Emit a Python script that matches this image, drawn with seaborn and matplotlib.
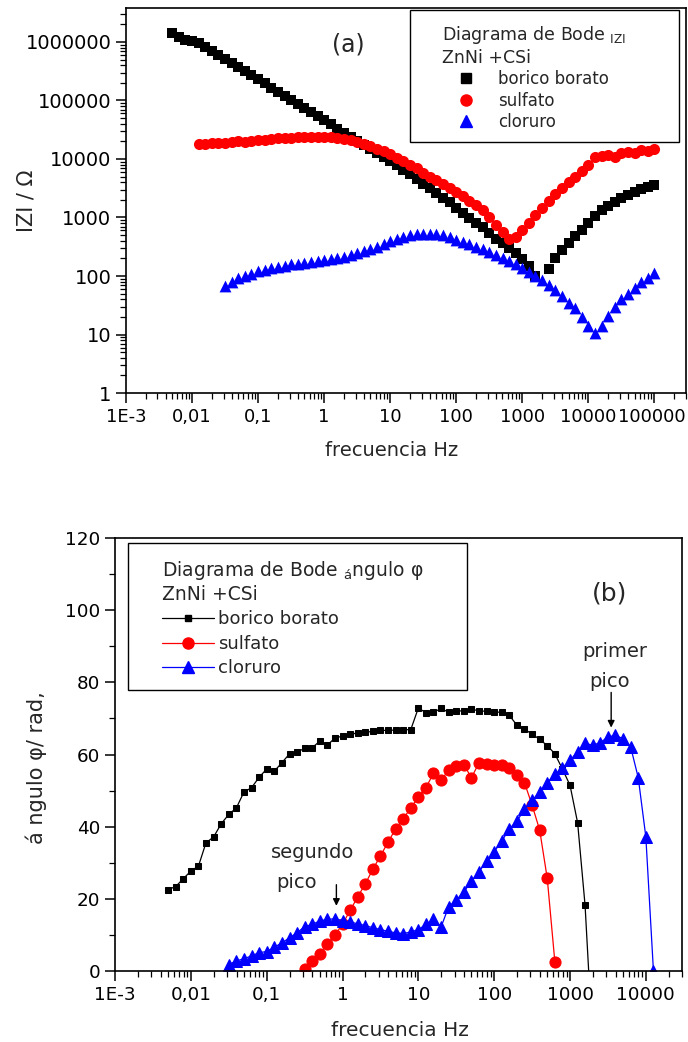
import numpy as np
import pandas as pd
import matplotlib
matplotlib.use("Agg")
import matplotlib.pyplot as plt
import seaborn as sns
from matplotlib.lines import Line2D
from matplotlib.patches import Rectangle
from matplotlib.transforms import ScaledTranslation
from matplotlib.ticker import LogLocator, NullFormatter, MultipleLocator

# ---------------- data ----------------
freq = [0.00501, 0.00631, 0.00794, 0.01, 0.0126, 0.0158, 0.02, 0.0251, 0.0316, 0.0398,
        0.0501, 0.0631, 0.0794, 0.1, 0.126, 0.158, 0.2, 0.251, 0.316, 0.398,
        0.501, 0.631, 0.794, 1.0, 1.26, 1.58, 2.0, 2.51, 3.16, 3.98,
        5.01, 6.31, 7.94, 10.0, 12.6, 15.8, 20.0, 25.1, 31.6, 39.8,
        50.1, 63.1, 79.4, 100, 126, 158, 200, 251, 316, 398,
        501, 631, 794, 1000, 1260, 1580, 2000, 2510, 3160, 3980,
        5010, 6310, 7940, 10000, 12600, 15800, 20000, 25100, 31600, 39800,
        50100, 63100, 79400, 100000]

# |Z| (ohm) -- panel (a)
z_borico = [1450000, 1200000, 1100000, 1030000, 977000, 832000, 708000, 603000, 513000, 437000,
            372000, 316000, 269000, 229000, 195000, 166000, 141000, 120000, 102000, 87100,
            74100, 63100, 53700, 45700, 38900, 33100, 28200, 24000, 20400, 17400,
            14800, 12600, 10700, 9120, 7760, 6610, 5620, 4570, 3800, 3160,
            2630, 2190, 1820, 1480, 1200, 977, 813, 676, 537, 437,
            363, 302, 251, 195, 148, 100, np.nan, 132, 200, 275,
            363, 479, 617, 794, 1050, 1320, 1580, 1860, 2140, 2450,
            2750, 3090, 3310, 3550]
z_sulfato = [18200, 18200, 18600, 18600, 19100, 19500, 20000, 19500, 20400, 20900,
             21400, 21900, 22400, 22900, 22900, 23400, 23400, 24000, 24000, 24000,
             23400, 22900, 21900, 20900, 19500, 18200, 16600, 15100, 13500, 12000,
             10500, 9120, 7940, 6920, 5750, 5010, 4370, 3800, 3240, 2750,
             2340, 1950, 1620, 1320, 1000, 759, 562, 427, 457, 603,
             794, 1100, 1480, 1950, 2510, 3160, 3980, 5010, 6310, 7940,
             10700, 11200, 11500, 11000, 12600, 13200, 12900, 14100, 13500, 15100]
z_cloruro = [68, 79, 91, 100, 110, 120, 129, 138, 145, 151,
             158, 162, 166, 174, 178, 186, 195, 204, 214, 229,
             245, 263, 288, 316, 355, 398, 437, 468, 495, 515,
             530, 530, 515, 495, 468, 417, 380, 347, 316, 288,
             257, 229, 204, 182, 158, 138, 117, 100, 85, 71,
             58, 46, 35, 28, 20, 14, 10.5, 13.8, 21, 30,
             40, 50, 63, 78, 93, 112]

# phase angle (degrees) -- panel (b)
ph_borico = [22.6, 23.4, 25.6, 27.7, 29.1, 35.5, 37.2, 40.8, 43.4, 45.2,
             49.6, 50.8, 53.7, 56.0, 55.4, 57.7, 60.2, 60.7, 61.7, 61.9,
             63.7, 62.6, 64.6, 65.1, 65.6, 66.0, 66.2, 66.4, 66.7, 66.7,
             66.8, 66.9, 66.9, 72.9, 71.6, 71.7, 72.8, 71.7, 72.1, 72.1,
             72.6, 72.1, 72.0, 71.7, 71.8, 70.9, 68.1, 67.0, 65.7, 64.2,
             62.5, 60.2, 56.0, 51.5, 41.1, 18.2, -21.0]
ph_sulfato = [-3.0, 0.6, 2.8, 4.8, 7.6, 9.9, 13.0, 16.8, 20.5, 24.2,
              28.2, 31.9, 35.7, 39.4, 42.2, 45.2, 48.2, 50.8, 54.8, 52.9,
              55.7, 56.8, 57.2, 53.6, 57.7, 57.4, 57.0, 57.0, 56.3, 54.2,
              52.2, 46.0, 39.1, 25.7, 2.6]
ph_cloruro = [1.8, 2.8, 3.4, 4.2, 5.1, 5.4, 6.6, 7.8, 9.2, 10.6,
              12.3, 12.9, 13.9, 14.3, 14.5, 14.0, 13.6, 13.1, 12.6, 12.0,
              11.5, 11.0, 10.6, 10.4, 10.8, 11.5, 12.9, 14.3, 12.3, 17.8,
              19.7, 21.9, 24.9, 27.5, 30.5, 33.1, 36.0, 39.4, 41.6, 44.8,
              47.3, 49.6, 52.2, 54.5, 56.3, 58.4, 60.8, 63.1, 62.6, 63.3,
              64.9, 65.3, 64.4, 62.1, 53.6, 37.2, 0.0]

series_labels = ["borico borato", "sulfato", "cloruro"]
colors = ["black", "#ff0000", "#0000ff"]

xt_a = [1e-3, 1e-2, 1e-1, 1, 10, 100, 1000, 10000, 100000]
xl_a = ["1E-3", "0,01", "0,1", "1", "10", "100", "1000", "10000", "100000"]
yt_a = [1, 10, 100, 1000, 10000, 100000, 1000000]
yl_a = ["1", "10", "100", "1000", "10000", "100000", "1000000"]
xt_b = [1e-3, 1e-2, 1e-1, 1, 10, 100, 1000, 10000]
xl_b = ["1E-3", "0,01", "0,1", "1", "10", "100", "1000", "10000"]
yt_b = [0, 20, 40, 60, 80, 100, 120]

# ---------------- style ----------------
sns.set_theme(style="ticks")
plt.rcParams['font.family'] = ['DejaVu Sans']
plt.rcParams['mathtext.fontset'] = 'dejavusans'
plt.rcParams['axes.edgecolor'] = 'black'
plt.rcParams['axes.linewidth'] = 1.2
plt.rcParams['xtick.color'] = 'black'
plt.rcParams['ytick.color'] = 'black'

fig = plt.figure(figsize=(6.88, 10.42), dpi=100)
ax1 = fig.add_axes([0.1831, 0.6228, 0.8140, 0.3695])
ax2 = fig.add_axes([0.1672, 0.0681, 0.8241, 0.4155])

# ---------------- panel (a) ----------------
ax1.set_xscale('log')
ax1.set_yscale('log')
f_b = freq[:len(z_borico)]
f_s = freq[4:4 + len(z_sulfato)]
f_c = freq[8:8 + len(z_cloruro)]
sns.scatterplot(x=f_b, y=z_borico, marker='s', color=colors[0], s=50, linewidth=0, ax=ax1)
sns.scatterplot(x=f_s, y=z_sulfato, marker='o', color=colors[1], s=64, linewidth=0, ax=ax1)
sns.scatterplot(x=f_c, y=z_cloruro, marker='^', color=colors[2], s=72, linewidth=0, ax=ax1)

ax1.set_xlim(1e-3, 3.0e5)
ax1.set_ylim(1, 3.8e6)
ax1.set_xticks(xt_a, xl_a)
ax1.set_yticks(yt_a, yl_a)
ax1.xaxis.set_minor_locator(LogLocator(base=10, subs=np.arange(2, 10), numticks=20))
ax1.yaxis.set_minor_locator(LogLocator(base=10, subs=np.arange(2, 10), numticks=20))
ax1.xaxis.set_minor_formatter(NullFormatter())
ax1.yaxis.set_minor_formatter(NullFormatter())
ax1.set_xlabel("frecuencia Hz", fontsize=14)
ax1.set_ylabel("IZI / Ω", fontsize=15)
ax1.xaxis.set_label_coords(0.475, -0.125)
ax1.yaxis.set_label_coords(-0.16, 0.5)
ax1.text(2.34, 9.1e5, "(a)", fontsize=17, ha='center', va='center')

# legend box (a)
ax1.add_patch(Rectangle((0.507, 0.652), 0.4805, 0.343, transform=ax1.transAxes,
                        facecolor='white', edgecolor='black', lw=1.0, zorder=4))
h_a = [Line2D([], [], ls='none', marker='s', color=colors[0], markersize=7),
       Line2D([], [], ls='none', marker='o', color=colors[1], markersize=8),
       Line2D([], [], ls='none', marker='^', color=colors[2], markersize=8.5)]
leg1 = ax1.legend(h_a, series_labels,
                  title="Diagrama de Bode $_{\\mathrm{IZI}}$\nZnNi +CSi",
                  loc='upper left', bbox_to_anchor=(0.564, 0.958),
                  frameon=False, fontsize=12, title_fontsize=12.5, alignment='left',
                  handlelength=2.9, handletextpad=0.5, borderpad=0,
                  labelspacing=0.2, borderaxespad=0)
leg1.set_zorder(6)

# ---------------- panel (b) ----------------
ax2.set_xscale('log')
g_b = freq[:len(ph_borico)]
g_s = freq[17:17 + len(ph_sulfato)]
g_c = freq[8:8 + len(ph_cloruro)]
sns.lineplot(x=g_b, y=ph_borico, color=colors[0], marker='s', markersize=3.8,
             markeredgecolor=colors[0], linewidth=0.9, sort=False, estimator=None, ax=ax2)
sns.lineplot(x=g_s, y=ph_sulfato, color=colors[1], marker='o', markersize=8,
             markeredgecolor=colors[1], linewidth=0.9, sort=False, estimator=None, ax=ax2)
sns.lineplot(x=g_c, y=ph_cloruro, color=colors[2], marker='^', markersize=9,
             markeredgecolor=colors[2], linewidth=0.9, sort=False, estimator=None, ax=ax2)

ax2.set_xlim(1e-3, 3.0e4)
ax2.set_ylim(0, 120)
ax2.set_xticks(xt_b, xl_b)
ax2.set_yticks(yt_b, [str(v) for v in yt_b])
ax2.yaxis.set_minor_locator(MultipleLocator(10))
ax2.xaxis.set_minor_locator(LogLocator(base=10, subs=np.arange(2, 10), numticks=20))
ax2.xaxis.set_minor_formatter(NullFormatter())
ax2.set_xlabel("frecuencia Hz", fontsize=14.5)
ax2.set_ylabel("á ngulo φ/ rad,", fontsize=15)
ax2.xaxis.set_label_coords(0.503, -0.115)
ax2.yaxis.set_label_coords(-0.12, 0.47)

ax2.text(3360, 104.6, "(b)", fontsize=18, ha='center', va='center')
ax2.text(0.115, 32.8, "segundo", fontsize=14, ha='left', va='center')
ax2.text(0.132, 24.5, "pico", fontsize=14, ha='left', va='center')
ax2.annotate("", xy=(0.83, 17.3), xytext=(0.83, 24.7),
             arrowprops=dict(arrowstyle='-|>', color='black', lw=1.0, mutation_scale=10))
ax2.text(1472, 88.6, "primer", fontsize=14, ha='left', va='center')
ax2.text(1795, 80.3, "pico", fontsize=14, ha='left', va='center')
ax2.annotate("", xy=(3490, 66.7), xytext=(3490, 78.0),
             arrowprops=dict(arrowstyle='-|>', color='black', lw=1.0, mutation_scale=10))

# legend box (b)
ax2.add_patch(Rectangle((0.0229, 0.649), 0.5979, 0.339, transform=ax2.transAxes,
                        facecolor='white', edgecolor='black', lw=1.0, zorder=4))
h_b = [Line2D([], [], color=colors[0], marker='s', markersize=3.8, lw=0.9),
       Line2D([], [], color=colors[1], marker='o', markersize=8, lw=0.9),
       Line2D([], [], color=colors[2], marker='^', markersize=9, lw=0.9)]
leg2 = ax2.legend(h_b, series_labels,
                  title="Diagrama de Bode $_{\\mathrm{á}}$ngulo φ\nZnNi +CSi",
                  loc='upper left', bbox_to_anchor=(0.0829, 0.952),
                  frameon=False, fontsize=13, title_fontsize=13.5, alignment='left',
                  handlelength=2.9, handletextpad=0.2, borderpad=0,
                  labelspacing=0.36, borderaxespad=0)
leg2.set_zorder(6)

for ax, xs in ((ax1, 13), (ax2, 13.2)):
    for sp in ax.spines.values():
        sp.set_visible(True)
        sp.set_color('black')
        sp.set_linewidth(1.2)
    ax.tick_params(which='major', direction='out', length=7, width=1.1,
                   top=False, right=False)
    ax.tick_params(which='minor', direction='out', length=4, width=0.9,
                   top=False, right=False)
    ax.tick_params(axis='x', which='major', labelsize=xs)
    ax.grid(False)
ax1.tick_params(axis='y', which='major', labelsize=14)
ax2.tick_params(axis='y', which='major', labelsize=13.2)

# keep the last top tick label inside the figure
last = ax1.get_xticklabels()[-1]
last.set_transform(last.get_transform() + ScaledTranslation(-0.03, 0, fig.dpi_scale_trans))

fig.savefig("out.png", dpi=100)
